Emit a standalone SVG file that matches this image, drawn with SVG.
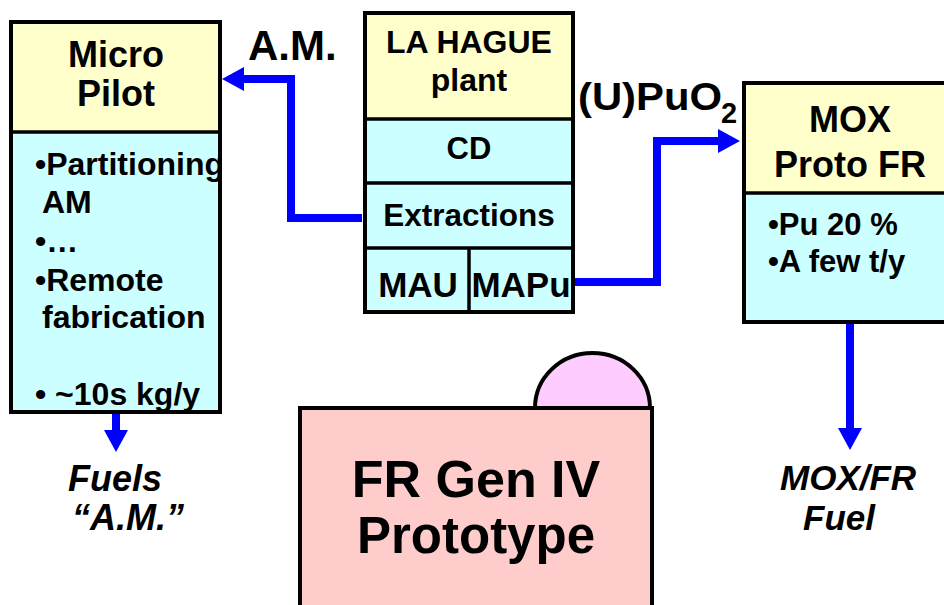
<svg xmlns="http://www.w3.org/2000/svg" width="944" height="605" viewBox="0 0 944 605">
  <style>
    text { font-family: "Liberation Sans", Arial, sans-serif; font-weight: bold; fill: #000; }
    .c { text-anchor: middle; }
    .it { font-style: italic; }
    .box { stroke: #000; stroke-width: 4; }
    .div { stroke: #000; stroke-width: 3.5; fill: none; }
    .yel { fill: #FFFFCC; }
    .cya { fill: #CCFFFF; }
    .flow { fill: none; stroke: #0000FF; stroke-width: 8; }
  </style>
  <defs>
    <marker id="head" markerUnits="userSpaceOnUse" viewBox="0 0 22 24" markerWidth="22" markerHeight="24" refX="0" refY="12" orient="auto">
      <path d="M0,0 L22,12 L0,24 z" fill="#0000FF"/>
    </marker>
    <clipPath id="microClip">
      <rect x="11" y="22" width="209" height="390"/>
    </clipPath>
  </defs>

  <rect width="944" height="605" fill="#FFFFFF"/>

  <!-- connectors -->
  <g id="connectors">
    <path class="flow" d="M362,218 H291 V79 H244" marker-end="url(#head)"/>
    <path class="flow" d="M573,282 H657 V141 H718" marker-end="url(#head)"/>
    <path class="flow" d="M116,412 V430" marker-end="url(#head)"/>
    <path class="flow" d="M850,322 V428" stroke-width="9" marker-end="url(#head)"/>
  </g>

  <!-- Micro Pilot -->
  <g id="micro-pilot">
    <rect class="yel" x="11" y="22" width="209" height="110"/>
    <rect class="cya" x="11" y="132" width="209" height="280"/>
    <g clip-path="url(#microClip)" font-size="32">
      <text x="35" y="175">•Partitioning</text>
      <text x="42" y="213">AM</text>
      <text x="35" y="252">•…</text>
      <text x="35" y="291">•Remote</text>
      <text x="42" y="328">fabrication</text>
      <text x="35" y="405">• ~10s kg/y</text>
    </g>
    <text class="c" x="116" y="67" font-size="36">Micro</text>
    <text class="c" x="116" y="106" font-size="36">Pilot</text>
    <line class="div" x1="11" y1="132" x2="220" y2="132"/>
    <rect class="box" x="11" y="22" width="209" height="390" fill="none"/>
  </g>

  <!-- LA HAGUE plant -->
  <g id="la-hague">
    <rect class="yel" x="365" y="13" width="208" height="106"/>
    <rect class="cya" x="365" y="119" width="208" height="193"/>
    <line class="div" x1="365" y1="119" x2="573" y2="119"/>
    <line class="div" x1="365" y1="183" x2="573" y2="183"/>
    <line class="div" x1="365" y1="248" x2="573" y2="248"/>
    <line class="div" x1="469" y1="248" x2="469" y2="312"/>
    <rect class="box" x="365" y="13" width="208" height="299" fill="none"/>
    <text class="c" x="469" y="53" font-size="32">LA HAGUE</text>
    <text class="c" x="469" y="91" font-size="32">plant</text>
    <text class="c" x="469" y="159" font-size="31">CD</text>
    <text class="c" x="469" y="226" font-size="31.5">Extractions</text>
    <text class="c" x="418" y="297" font-size="35">MAU</text>
    <text class="c" x="521" y="297" font-size="35">MAPu</text>
  </g>

  <!-- MOX Proto FR -->
  <g id="mox-proto-fr">
    <rect class="yel" x="744" y="83" width="210" height="110"/>
    <rect class="cya" x="744" y="193" width="210" height="129"/>
    <line class="div" x1="744" y1="193" x2="954" y2="193"/>
    <rect class="box" x="744" y="83" width="210" height="239" fill="none"/>
    <text class="c" x="850" y="132" font-size="36">MOX</text>
    <text class="c" x="850" y="177" font-size="36">Proto FR</text>
    <text x="768" y="235" font-size="31">•Pu 20 %</text>
    <text x="768" y="272" font-size="31">•A few t/y</text>
  </g>

  <!-- FR Gen IV Prototype -->
  <g id="fr-gen-iv">
    <path d="M535,408 A57.5,55 0 0 1 650,408 Z" fill="#FFCCFF" stroke="#000" stroke-width="4"/>
    <rect x="300" y="408" width="352" height="210" fill="#FFCCCC" stroke="#000" stroke-width="4"/>
    <text class="c" x="476" y="497" font-size="52">FR Gen IV</text>
    <text class="c" x="476" y="553" font-size="51">Prototype</text>
  </g>

  <!-- flow labels -->
  <g id="labels">
    <text x="248" y="60" font-size="42">A.M.</text>
    <text x="578" y="110" font-size="38" textLength="144" lengthAdjust="spacingAndGlyphs">(U)PuO</text>
    <text x="721" y="123" font-size="29">2</text>
    <text class="it" x="68" y="491" font-size="36">Fuels</text>
    <text class="it" x="72" y="530" font-size="36">“A.M.”</text>
    <text class="it" x="780" y="490" font-size="35">MOX/FR</text>
    <text class="it" x="803" y="530" font-size="35">Fuel</text>
  </g>
</svg>
